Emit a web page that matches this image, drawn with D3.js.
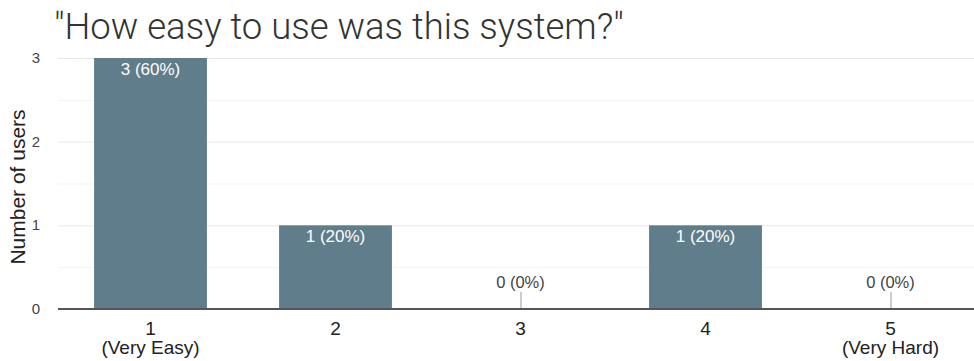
<!DOCTYPE html>
<html>
<head>
<meta charset="utf-8">
<script src="https://cdn.jsdelivr.net/npm/d3@7"></script>
<style>
  body { margin: 0; background: #fff; }
  text { font-family: "Liberation Sans", Arial, sans-serif; }
  .title { font-family: Roboto, sans-serif; }
</style>
</head>
<body>
<script>
var categories = ['1', '2', '3', '4', '5'];
var subLabels = ['(Very Easy)', '', '', '', '(Very Hard)'];
var counts = [3, 1, 0, 1, 0];
var percents = [60, 20, 0, 20, 0];
var yTicks = [0, 1, 2, 3];

var data = categories.map(function(c, i) {
	return { cat: c, sub: subLabels[i], v: counts[i], p: percents[i] };
});

var W = 974, H = 361;
var margin = { top: 58, right: -9, bottom: 52, left: 58 };
var width = W - margin.left - margin.right;
var height = H - margin.top - margin.bottom;

var svg = d3.select('body').append('svg')
	.attr('width', W)
	.attr('height', H);

svg.append('text')
	.attr('class', 'title')
	.attr('x', 54)
	.attr('y', 39)
	.attr('font-size', 36.5)
	.attr('font-weight', 300)
	.attr('fill', '#333')
	.text('"How easy to use was this system?"');

var g = svg.append('g')
	.attr('transform', `translate(${margin.left}, ${margin.top})`);

var xScale = d3.scaleBand().domain(categories).range([0, width]).paddingInner(0.39).paddingOuter(0.195);
var yScale = d3.scaleLinear().domain([0, 3]).range([height, 0]);

// gridlines, half steps
g.append('g')
	.selectAll('line')
	.data(d3.range(0.5, 3.01, 0.5))
	.enter().append('line')
	.attr('x1', 0).attr('x2', width)
	.attr('y1', function(d) { return yScale(d) + 0.5; })
	.attr('y2', function(d) { return yScale(d) + 0.5; })
	.attr('stroke', function(d) { return d % 1 === 0 ? '#e8e8e8' : '#f3f3f3'; });

// y tick labels
g.append('g')
	.selectAll('text')
	.data(yTicks)
	.enter().append('text')
	.attr('x', -18)
	.attr('y', function(d) { return yScale(d) + 5; })
	.attr('text-anchor', 'end')
	.attr('font-size', 15)
	.attr('fill', '#444')
	.text(function(d) { return d; });

svg.append('text')
	.attr('transform', 'translate(25, 187) rotate(-90)')
	.attr('text-anchor', 'middle')
	.attr('font-size', 21)
	.attr('fill', '#222')
	.text('Number of users');

// bars
g.selectAll('.bar')
	.data(data)
	.enter().append('rect')
	.attr('class', 'bar')
	.attr('x', function(d) { return xScale(d.cat); })
	.attr('width', xScale.bandwidth())
	.attr('y', function(d) { return yScale(d.v); })
	.attr('height', function(d) { return height - yScale(d.v); })
	.attr('fill', '#607d8b');

// labels inside bars
g.selectAll('.lbl')
	.data(data.filter(function(d) { return d.v > 0; }))
	.enter().append('text')
	.attr('x', function(d) { return xScale(d.cat) + xScale.bandwidth() / 2; })
	.attr('y', function(d) { return yScale(d.v) + 16.5; })
	.attr('text-anchor', 'middle')
	.attr('font-size', 17)
	.attr('fill', '#fff')
	.text(function(d) { return d.v + ' (' + d.p + '%)'; });

// zero-value labels with leader
var zeros = data.filter(function(d) { return d.v === 0; });
g.selectAll('.zline')
	.data(zeros)
	.enter().append('line')
	.attr('x1', function(d) { return xScale(d.cat) + xScale.bandwidth() / 2 + 0.5; })
	.attr('x2', function(d) { return xScale(d.cat) + xScale.bandwidth() / 2 + 0.5; })
	.attr('y1', yScale(0) - 17)
	.attr('y2', yScale(0))
	.attr('stroke', '#999');
g.selectAll('.zlbl')
	.data(zeros)
	.enter().append('text')
	.attr('x', function(d) { return xScale(d.cat) + xScale.bandwidth() / 2; })
	.attr('y', yScale(0) - 21)
	.attr('text-anchor', 'middle')
	.attr('font-size', 16.5)
	.attr('fill', '#444')
	.text(function(d) { return d.v + ' (' + d.p + '%)'; });

// baseline
g.append('line')
	.attr('x1', 0).attr('x2', width)
	.attr('y1', height).attr('y2', height)
	.attr('stroke', '#555')
	.attr('stroke-width', 2);

// x labels
var xl = g.selectAll('.xl')
	.data(data)
	.enter().append('text')
	.attr('text-anchor', 'middle')
	.attr('font-size', 19)
	.attr('fill', '#222');
xl.append('tspan')
	.attr('x', function(d) { return xScale(d.cat) + xScale.bandwidth() / 2; })
	.attr('y', height + 26)
	.text(function(d) { return d.cat; });
xl.append('tspan')
	.attr('x', function(d) { return xScale(d.cat) + xScale.bandwidth() / 2; })
	.attr('y', height + 45)
	.text(function(d) { return d.sub; });
</script>
</body>
</html>
